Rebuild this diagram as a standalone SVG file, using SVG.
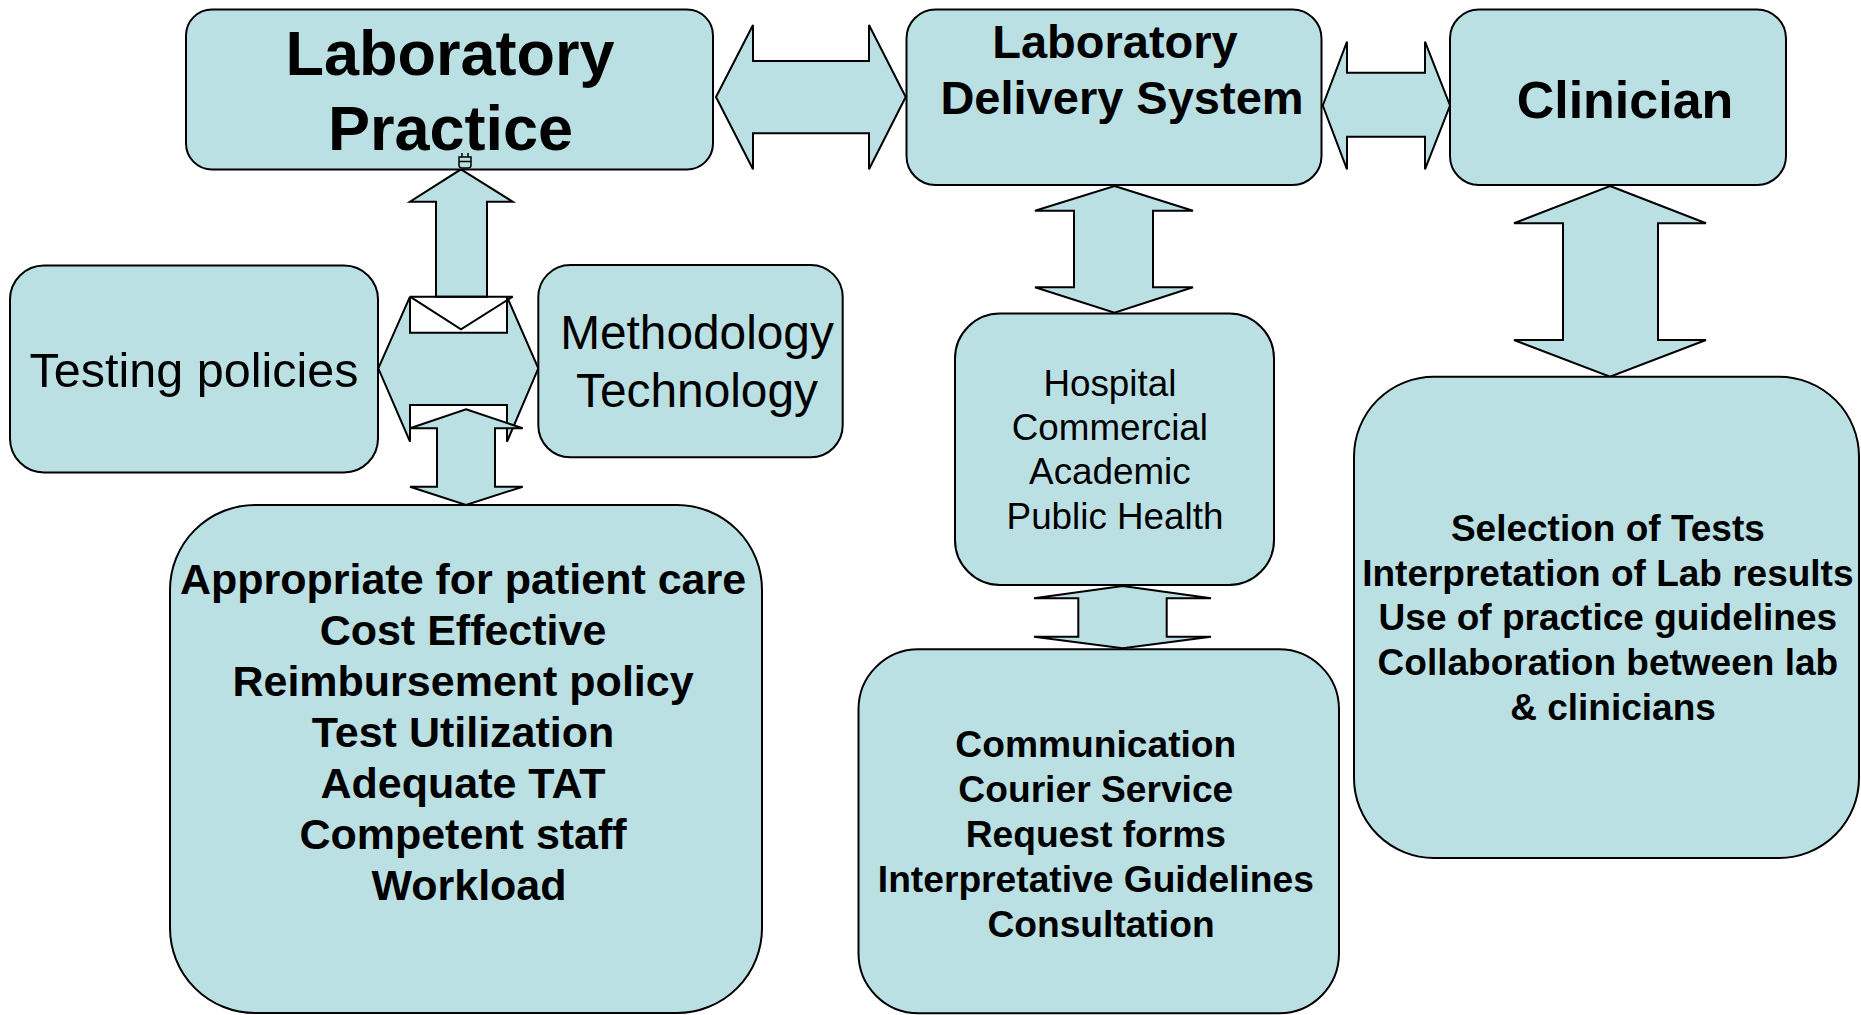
<svg xmlns="http://www.w3.org/2000/svg" width="1861" height="1015" viewBox="0 0 1861 1015">
  <style>
    .box { fill: #BBE0E3; stroke: #000; stroke-width: 2; }
    .arw { fill: #BBE0E3; stroke: #000; stroke-width: 2; stroke-linejoin: miter; }
    .ln { fill: none; stroke: #000; stroke-width: 2; }
    text { font-family: "Liberation Sans", Arial, sans-serif; fill: #000; text-anchor: middle; }
    .b { font-weight: bold; }
  </style>
  <rect width="1861" height="1015" fill="#fff"/>

  <!-- connectors: block arrows between the nodes -->
  <g id="connectors">
    <!-- Laboratory Practice <-> Laboratory Delivery System -->
    <polygon class="arw" points="716,97 753,25 753,61 869,61 869,25 905.7,97 869,169.3 869,133.3 753,133.3 753,169.3"/>
    <!-- Laboratory Delivery System <-> Clinician -->
    <polygon class="arw" points="1322.8,105.5 1347,41.7 1347,72.7 1425,72.7 1425,41.7 1450,105.5 1425,169.3 1425,136.7 1347,136.7 1347,169.3"/>
    <!-- Laboratory Practice down to the policy cross -->
    <polygon class="arw" points="461,169.3 512.7,201.7 487,201.7 487,296.7 436,296.7 436,201.7 410,201.7"/>
    <line class="ln" x1="410" y1="296.7" x2="512.7" y2="296.7"/>
    <polyline class="ln" points="410,296.7 461,329.3 512.7,296.7"/>
    <!-- Testing policies <-> Methodology / Technology -->
    <polygon class="arw" points="378.3,368.3 410,296.7 410,332.7 507,332.7 507,296.7 538.3,368.3 507,441.7 507,405 410,405 410,441.7"/>
    <!-- policy cross down to the patient-care list -->
    <polygon class="arw" points="466,409.3 522.7,428.3 495,428.3 495,486.7 522.7,486.7 466,505 410,486.7 437,486.7 437,428.3 410,428.3"/>
    <!-- Laboratory Delivery System <-> Hospital -->
    <polygon class="arw" points="1114.5,186 1193,210.7 1153,210.7 1153,287.3 1193,287.3 1114.5,312.7 1035,287.3 1074,287.3 1074,210.7 1035,210.7"/>
    <!-- Clinician <-> Selection of Tests -->
    <polygon class="arw" points="1610,186 1706,223.3 1658,223.3 1658,340 1706,340 1610,376.7 1514,340 1563,340 1563,223.3 1514,223.3"/>
    <!-- Hospital <-> Communication -->
    <polygon class="arw" points="1122.7,586 1211,598.3 1166.7,598.3 1166.7,636.7 1211,636.7 1122.7,648.3 1034,636.7 1078.3,636.7 1078.3,598.3 1034,598.3"/>
  </g>

  <g id="lab-practice">
    <rect class="box" x="186" y="9.5" width="527" height="160" rx="26"/>
    <text class="b" x="450" y="75" font-size="63">Laboratory</text>
    <text class="b" x="450.5" y="150" font-size="63">Practice</text>
    <!-- small connection handle on the lower edge -->
    <path d="M459,157 h12 v8 q0,3 -3,3 h-6 q-3,0 -3,-3 z M459,161.5 h12 M462,153 v4 M468,153 v4" fill="#BBE0E3" stroke="#000" stroke-width="1.5"/>
  </g>

  <g id="lab-delivery">
    <rect class="box" x="906.5" y="9.5" width="415" height="175.5" rx="29"/>
    <text class="b" x="1115" y="58" font-size="47">Laboratory</text>
    <text class="b" x="1122" y="114" font-size="47">Delivery System</text>
  </g>

  <g id="clinician">
    <rect class="box" x="1450" y="9.5" width="336" height="175.5" rx="29"/>
    <text class="b" x="1625" y="118" font-size="52">Clinician</text>
  </g>

  <g id="testing-policies">
    <rect class="box" x="10" y="265.5" width="368" height="207" rx="34"/>
    <text x="194" y="387" font-size="48.5">Testing policies</text>
  </g>

  <g id="methodology">
    <rect class="box" x="538.3" y="265" width="304.4" height="192.3" rx="32"/>
    <text x="697" y="349.3" font-size="47.8">Methodology</text>
    <text x="697" y="406.7" font-size="47.8">Technology</text>
  </g>

  <g id="patient-care">
    <rect class="box" x="170" y="505" width="592" height="508" rx="85"/>
    <text class="b" font-size="43">
      <tspan x="469" y="594">Appropriate for patient care</tspan>
      <tspan x="469" y="645">Cost Effective</tspan>
      <tspan x="469" y="695.5">Reimbursement policy</tspan>
      <tspan x="469" y="747">Test Utilization</tspan>
      <tspan x="469" y="798">Adequate TAT</tspan>
      <tspan x="469" y="848.5">Competent staff</tspan>
      <tspan x="469" y="899.5">Workload</tspan>
    </text>
  </g>

  <g id="hospital">
    <rect class="box" x="955" y="313.5" width="319" height="271.5" rx="45"/>
    <text font-size="36.8">
      <tspan x="1115" y="396">Hospital</tspan>
      <tspan x="1115" y="440">Commercial</tspan>
      <tspan x="1115" y="484">Academic</tspan>
      <tspan x="1115" y="528.5">Public Health</tspan>
    </text>
  </g>

  <g id="communication">
    <rect class="box" x="858.5" y="649.3" width="480.5" height="364" rx="60"/>
    <text class="b" font-size="37.2">
      <tspan x="1101" y="756.7">Communication</tspan>
      <tspan x="1101" y="801.7">Courier Service</tspan>
      <tspan x="1101" y="846.7">Request forms</tspan>
      <tspan x="1101" y="891.7">Interpretative Guidelines</tspan>
      <tspan x="1101" y="936.7">Consultation</tspan>
    </text>
  </g>

  <g id="selection">
    <rect class="box" x="1354" y="376.7" width="505" height="481.3" rx="80"/>
    <text class="b" font-size="37">
      <tspan x="1613" y="541">Selection of Tests</tspan>
      <tspan x="1613" y="585.7">Interpretation of Lab results</tspan>
      <tspan x="1613" y="630.4">Use of practice guidelines</tspan>
      <tspan x="1613" y="675.1">Collaboration between lab</tspan>
      <tspan x="1613" y="719.8">&amp; clinicians</tspan>
    </text>
  </g>
</svg>
